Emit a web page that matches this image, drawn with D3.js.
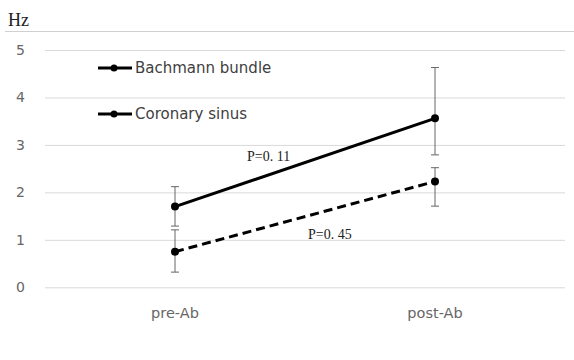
<!DOCTYPE html>
<html><head><meta charset="utf-8">
<script src="https://cdn.jsdelivr.net/npm/d3@7"></script>
<style>body{margin:0;background:#fff}svg{display:block}</style>
</head><body>
<svg id="c" width="574" height="360"></svg>
<script>
const categories = ["pre-Ab", "post-Ab"];
const seriesNames = ["Bachmann bundle", "Coronary sinus"];
const bachmann = [1.70, 3.56];
const bachmannHi = [2.12, 4.63];
const bachmannLo = [1.29, 2.79];
const coronary = [0.75, 2.23];
const coronaryHi = [1.21, 2.52];
const coronaryLo = [0.32, 1.71];
const yTicks = [0, 1, 2, 3, 4, 5];
const pLabels = ["P=0. 11", "P=0. 45"];

const svg = d3.select("#c");
const x = d3.scaleBand().domain(categories).range([45, 565]);
const y = d3.scaleLinear().domain([0, 5]).range([287.3, 50]);
const cx = d => x(d) + x.bandwidth() / 2;

// top separator line
svg.append("line").attr("x1", 5).attr("x2", 574).attr("y1", 31.5).attr("y2", 31.5)
  .attr("stroke", "#d0d0d0").attr("stroke-width", 1);
svg.append("text").attr("x", 8).attr("y", 26).text("Hz")
  .attr("font-family", "Liberation Serif, serif").attr("font-size", 18).attr("fill", "#222");

// grid
const yAxis = d3.axisLeft(y).tickValues(yTicks).tickSize(-(565 - 45)).tickFormat(d3.format("d"));
const gy = svg.append("g").attr("transform", "translate(45,0)").call(yAxis);
gy.select(".domain").remove();
gy.selectAll(".tick line").attr("stroke", "#d9d9d9").attr("stroke-width", 1);
gy.selectAll(".tick text").attr("x", -20).attr("fill", "#666")
  .attr("font-family", "DejaVu Sans, sans-serif").attr("font-size", 14);

const xAxis = d3.axisBottom(x).tickSize(0);
const gx = svg.append("g").attr("transform", "translate(0,287.3)").call(xAxis);
gx.select(".domain").remove();
gx.selectAll(".tick text").attr("dy", 0).attr("y", 31).attr("fill", "#666")
  .attr("font-family", "DejaVu Sans, sans-serif").attr("font-size", 14.5);

const series = [
  {name: seriesNames[0], v: bachmann, hi: bachmannHi, lo: bachmannLo, dash: null},
  {name: seriesNames[1], v: coronary, hi: coronaryHi, lo: coronaryLo, dash: "9,5"}
];

// error bars
series.forEach(s => {
  categories.forEach((c, i) => {
    const g = svg.append("g").attr("stroke", "#666").attr("stroke-width", 1);
    g.append("line").attr("x1", cx(c)).attr("x2", cx(c)).attr("y1", y(s.hi[i])).attr("y2", y(s.lo[i]));
    [s.hi[i], s.lo[i]].forEach(v => g.append("line").attr("x1", cx(c) - 4).attr("x2", cx(c) + 4)
      .attr("y1", y(v)).attr("y2", y(v)));
  });
});

const line = d3.line().x((d, i) => cx(categories[i])).y(d => y(d));
series.forEach(s => {
  svg.append("path").attr("d", line(s.v)).attr("fill", "none").attr("stroke", "#000")
    .attr("stroke-width", 3).attr("stroke-dasharray", s.dash);
  svg.selectAll(null).data(s.v).enter().append("circle")
    .attr("cx", (d, i) => cx(categories[i])).attr("cy", d => y(d)).attr("r", 4).attr("fill", "#000");
});

// legend
const legY = [68, 114];
series.forEach((s, i) => {
  svg.append("line").attr("x1", 98).attr("x2", 132).attr("y1", legY[i]).attr("y2", legY[i])
    .attr("stroke", "#000").attr("stroke-width", 3);
  svg.append("circle").attr("cx", 114).attr("cy", legY[i]).attr("r", 3.5).attr("fill", "#000");
  svg.append("text").attr("x", 135).attr("y", legY[i] + 5).text(s.name)
    .attr("font-family", "DejaVu Sans, sans-serif").attr("font-size", 15).attr("fill", "#404040");
});

// p labels
svg.append("text").attr("x", 247).attr("y", 161).text(pLabels[0])
  .attr("font-family", "Liberation Serif, serif").attr("font-size", 14).attr("fill", "#222");
svg.append("text").attr("x", 308).attr("y", 239).text(pLabels[1])
  .attr("font-family", "Liberation Serif, serif").attr("font-size", 14).attr("fill", "#222");
</script>
</body></html>
